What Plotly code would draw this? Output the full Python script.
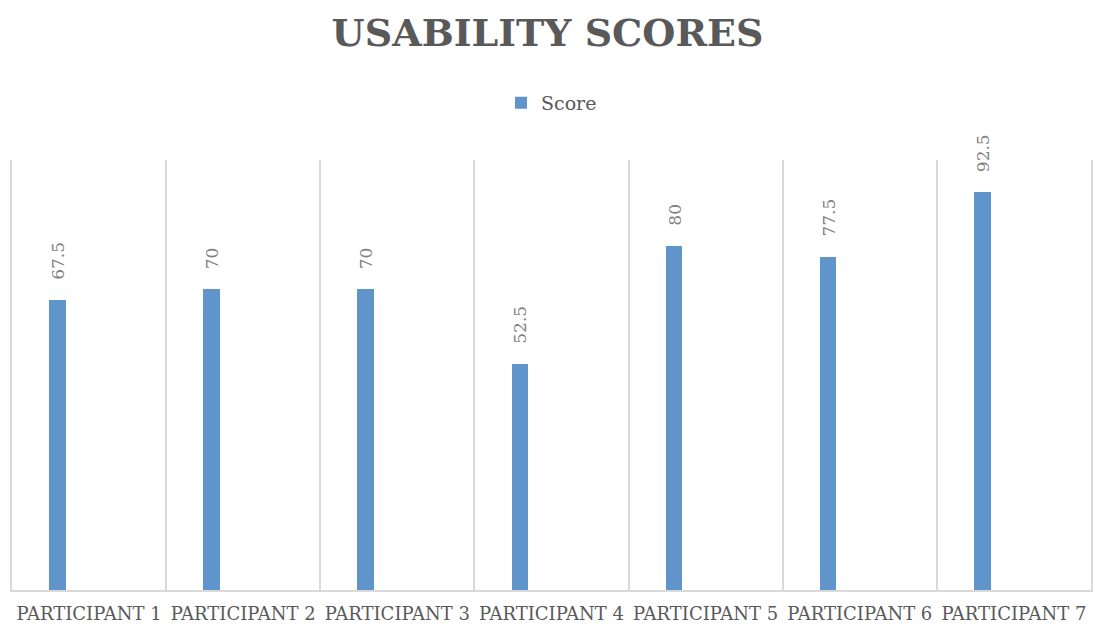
import plotly.graph_objects as go

categories = ["PARTICIPANT 1", "PARTICIPANT 2", "PARTICIPANT 3", "PARTICIPANT 4",
              "PARTICIPANT 5", "PARTICIPANT 6", "PARTICIPANT 7"]
scores = [67.5, 70, 70, 52.5, 80, 77.5, 92.5]
series_name = "Score"
title_text = "USABILITY SCORES"

BAR_COLOR = "#5F95CA"
GRID = "#D9D9D9"
FONT = "DejaVu Serif"

fig = go.Figure()
fig.add_trace(go.Bar(
    x=categories, y=scores, name=series_name,
    marker=dict(color=BAR_COLOR, line=dict(width=0)),
    width=0.107, offset=-0.259,
    showlegend=True,
))

for c, v in zip(categories, scores):
    fig.add_annotation(
        x=c, y=v, text=str(v), textangle=-90,
        xshift=-31, yshift=18, yanchor="bottom", showarrow=False,
        font=dict(family=FONT, size=17, color="#7F7F7F"),
    )

fig.update_layout(
    width=1095, height=627,
    margin=dict(l=12, r=2, t=160, b=37),
    paper_bgcolor="white", plot_bgcolor="white",
    title=dict(text=title_text, x=0.5, xanchor="center", y=0.948, yanchor="middle",
               font=dict(family=FONT, size=38, color="#595959", weight="bold")),
    legend=dict(orientation="h", x=0.5, xanchor="center", y=1.133, yanchor="middle",
                font=dict(family=FONT, size=19, color="#595959")),
    xaxis=dict(tickson="boundaries", showgrid=True, gridcolor=GRID, gridwidth=1.5,
               showline=True, linecolor=GRID, linewidth=1.5, ticks="",
               tickangle=0, automargin=False, ticklabelstandoff=7,
               tickfont=dict(family=FONT, size=18, color="#595959")),
    yaxis=dict(range=[0, 100], showgrid=False, showticklabels=False, zeroline=False,
               showline=True, mirror=True, linecolor=GRID, linewidth=1.5, ticks=""),
    bargap=0,
)

fig.write_html("out.html", config={"displayModeBar": False})

with open("out.html", "r", encoding="utf-8") as f:
    html = f.read()
html = html.replace("<body>", '<body style="margin:0;overflow:hidden">', 1)
with open("out.html", "w", encoding="utf-8") as f:
    f.write(html)
